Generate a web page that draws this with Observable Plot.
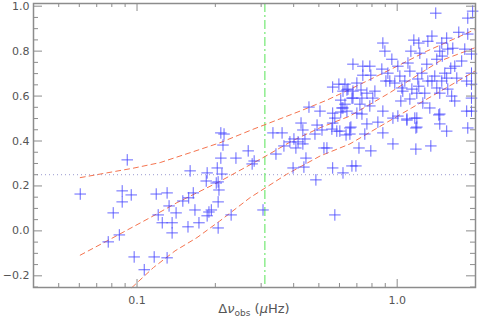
<!DOCTYPE html>
<html>
<head>
<meta charset="utf-8">
<script src="https://cdn.jsdelivr.net/npm/d3@7"></script>
<script src="https://cdn.jsdelivr.net/npm/@observablehq/plot@0.6"></script>
<style>
  html, body { margin: 0; padding: 0; background: #fff; }
  #chart svg { display: block; }
</style>
</head>
<body>
<div id="chart"></div>
<script>
// Observed large separation (μHz) and the plotted quantity
const deltaNu = [
  0.0605, 0.081, 0.0775, 0.0855, 0.0877, 0.095, 0.0877, 0.0917, 0.0975, 0.1066,
  0.1164, 0.1185, 0.1206, 0.1305, 0.1305, 0.125, 0.1364, 0.1364, 0.1328, 0.1413,
  0.150, 0.157, 0.160, 0.158, 0.1645, 0.167, 0.173, 0.1845, 0.186, 0.186,
  0.189, 0.193, 0.2016, 0.205, 0.2065, 0.205, 0.205, 0.2034, 0.212, 0.210,
  0.214, 0.210, 0.216, 0.230, 0.240, 0.2675, 0.277, 0.282, 0.305, 0.333,
  0.361, 0.342, 0.367, 0.387, 0.398, 0.401, 0.408, 0.416, 0.427, 0.434,
  0.434, 0.442, 0.438, 0.446, 0.458, 0.487, 0.492, 0.483, 0.505, 0.514,
  0.523, 0.537, 0.565, 0.576, 0.561, 0.565, 0.565, 0.576, 0.586, 0.607,
  0.602, 0.619, 0.636, 0.664, 0.670, 0.694, 0.713, 0.732, 0.751, 0.765,
  0.792, 0.843, 0.881, 0.963, 0.963, 1.090, 1.169, 1.180, 1.180, 1.347,
  1.445, 1.458, 1.55, 1.85, 0.565, 0.597, 0.641, 0.607, 0.670, 0.619,
  0.630, 0.647, 0.676, 0.738, 0.785, 0.738, 0.792, 0.873, 0.726, 0.806,
  0.905, 0.881, 0.897, 0.954, 1.407, 1.868, 1.95, 1.006, 1.159, 1.211,
  1.312, 1.36, 1.222, 1.129, 1.484, 1.55, 1.725, 1.868, 1.636, 1.458,
  1.607, 1.819, 1.93, 1.30, 1.244, 1.10, 1.119, 1.024, 0.921, 1.395,
  1.36, 1.524, 1.55, 1.695, 1.85, 0.979, 1.042, 1.139, 1.211, 1.277,
  1.42, 1.458, 1.565, 0.630, 0.70, 0.619, 0.676, 0.676, 0.732, 0.765,
  0.821, 1.051, 1.19, 0.719, 0.641, 0.881, 1.033, 1.119, 1.255, 1.335,
  1.458, 1.006, 1.090, 1.19, 0.658, 1.19, 1.93, 1.42, 1.49, 1.565,
  1.312, 1.20, 1.07, 0.937, 1.484, 1.62, 1.93, 0.613, 0.785, 0.70,
  1.665, 1.93, 1.868, 0.658, 1.93, 1.77, 1.665
];
const ratio = [
  0.164, 0.080, -0.049, -0.018, 0.178, 0.160, 0.129, 0.316, -0.116, -0.173,
  -0.116, 0.164, 0.071, 0.169, -0.120, 0.036, 0.036, -0.009, 0.111, 0.080,
  0.133, 0.018, 0.267, 0.147, 0.169, 0.093, 0.036, 0.222, 0.258, 0.067,
  0.084, 0.093, 0.213, 0.218, 0.182, 0.129, 0.013, 0.280, 0.253, 0.324,
  0.382, 0.436, 0.431, 0.071, 0.324, 0.356, 0.298, 0.311, 0.093, 0.436,
  0.436, 0.342, 0.378, 0.396, 0.280, 0.409, 0.369, 0.396, 0.480, 0.449,
  0.387, 0.409, 0.284, 0.324, 0.551, 0.227, 0.471, 0.431, 0.533, 0.449,
  0.369, 0.369, 0.280, 0.071, 0.453, 0.480, 0.524, 0.502, 0.444, 0.529,
  0.444, 0.258, 0.427, 0.462, 0.289, 0.289, 0.369, 0.520, 0.431, 0.476,
  0.356, 0.484, 0.436, 0.387, 0.502, 0.493, 0.502, 0.458, 0.364, 0.378,
  0.516, 0.476, 0.444, 0.533, 0.640, 0.653, 0.627, 0.582, 0.591, 0.547,
  0.564, 0.631, 0.742, 0.733, 0.733, 0.693, 0.693, 0.720, 0.627, 0.591,
  0.667, 0.836, 0.800, 0.764, 0.969, 0.947, 0.978, 0.733, 0.849, 0.836,
  0.844, 0.867, 0.791, 0.800, 0.836, 0.858, 0.884, 0.876, 0.813, 0.800,
  0.724, 0.809, 0.702, 0.742, 0.702, 0.747, 0.711, 0.689, 0.702, 0.689,
  0.667, 0.702, 0.680, 0.680, 0.667, 0.658, 0.636, 0.631, 0.644, 0.613,
  0.636, 0.613, 0.631, 0.653, 0.658, 0.622, 0.622, 0.591, 0.591, 0.613,
  0.622, 0.622, 0.613, 0.564, 0.533, 0.533, 0.578, 0.587, 0.569, 0.547,
  0.520, 0.511, 0.498, 0.502, 0.458, 0.462, 0.787, 0.764, 0.778, 0.809,
  0.667, 0.676, 0.667, 0.667, 0.667, 0.600, 0.653, 0.547, 0.556, 0.524,
  0.578, 0.533, 0.458, 0.431, 0.591, 0.756, 0.733
];

// Dashed relations
const upperX = [0.0605, 0.0967, 0.1227, 0.164, 0.208, 0.279, 0.423, 0.537, 0.658, 1.0, 1.30, 1.99];
const upperY = [0.237, 0.279, 0.304, 0.352, 0.392, 0.452, 0.533, 0.582, 0.630, 0.733, 0.800, 0.896];
const middleX = [0.0605, 0.0789, 0.1123, 0.1426, 0.186, 0.208, 0.305, 0.394, 0.505, 0.658, 0.937, 1.458, 1.99];
const middleY = [-0.108, -0.037, 0.059, 0.126, 0.192, 0.220, 0.326, 0.400, 0.459, 0.511, 0.615, 0.756, 0.815];
const lowerX = [0.0956, 0.1157, 0.140, 0.170, 0.208, 0.272, 0.376, 0.505, 0.658, 1.136, 1.99];
const lowerY = [-0.252, -0.163, -0.089, -0.030, 0.044, 0.148, 0.252, 0.333, 0.387, 0.547, 0.711];

const cutX = [0.31];          // vertical dash-dot line
const refY = [0.25];          // horizontal dotted line

// Axis ticks
const xMajor = [0.1, 1.0];
const xMinor = [0.05, 0.06, 0.07, 0.08, 0.09, 0.2, 0.3, 0.4, 0.5, 0.6, 0.7, 0.8, 0.9];
const yMajor = [-0.2, 0.0, 0.2, 0.4, 0.6, 0.8, 1.0];
const yMinor = [-0.25, -0.15, -0.1, -0.05, 0.05, 0.1, 0.15, 0.25, 0.3, 0.35, 0.45, 0.5, 0.55, 0.65, 0.7, 0.75, 0.85, 0.9, 0.95];

const points = deltaNu.map((d, i) => ({x: d, y: ratio[i]}));
const upper = upperX.map((d, i) => ({x: d, y: upperY[i]}));
const middle = middleX.map((d, i) => ({x: d, y: middleY[i]}));
const lower = lowerX.map((d, i) => ({x: d, y: lowerY[i]}));

const W = 480, H = 319, mL = 33, mR = 5, mT = 3, mB = 32;
const innerW = W - mL - mR, innerH = H - mT - mB;
const axisColor = "#8c8c8c";

const svg = Plot.plot({
  width: W, height: H,
  marginLeft: mL, marginRight: mR, marginTop: mT, marginBottom: mB,
  style: {fontFamily: "DejaVu Sans, sans-serif", fontSize: "11px", color: "#555", background: "#fff"},
  x: {type: "log", domain: [0.04, 2.0]},
  y: {domain: [-0.252, 1.012]},
  marks: [
    Plot.ruleY(refY, {stroke: "#9a9ad0", strokeDasharray: "1,3", strokeWidth: 1}),
    Plot.ruleX(cutX, {stroke: "#72e872", strokeDasharray: "9,3,2,3", strokeWidth: 1.2}),
    Plot.line(upper, {x: "x", y: "y", stroke: "#f5744f", strokeDasharray: "5,4", strokeWidth: 1}),
    Plot.line(middle, {x: "x", y: "y", stroke: "#f5744f", strokeDasharray: "5,4", strokeWidth: 1}),
    Plot.line(lower, {x: "x", y: "y", stroke: "#f5744f", strokeDasharray: "5,4", strokeWidth: 1}),
    Plot.dot(points, {x: "x", y: "y", symbol: "plus", r: 3.8, stroke: "#4040ff", strokeOpacity: 0.8, strokeWidth: 1}),
    // inward ticks: bottom/top
    Plot.tickX(xMajor, {x: d => d, insetTop: innerH - 8, stroke: axisColor}),
    Plot.tickX(xMinor, {x: d => d, insetTop: innerH - 4, stroke: axisColor}),
    Plot.tickX(xMajor, {x: d => d, insetBottom: innerH - 8, stroke: axisColor}),
    Plot.tickX(xMinor, {x: d => d, insetBottom: innerH - 4, stroke: axisColor}),
    // inward ticks: left/right
    Plot.tickY(yMajor, {y: d => d, insetRight: innerW - 9, stroke: axisColor}),
    Plot.tickY(yMinor, {y: d => d, insetRight: innerW - 5, stroke: axisColor}),
    Plot.tickY(yMajor, {y: d => d, insetLeft: innerW - 9, stroke: axisColor}),
    Plot.tickY(yMinor, {y: d => d, insetLeft: innerW - 5, stroke: axisColor}),
    Plot.axisX({ticks: xMajor, tickSize: 0, tickPadding: 9, tickFormat: d3.format(".1f"), label: null}),
    Plot.axisY({ticks: yMajor, tickSize: 0, tickPadding: 4, tickFormat: d3.format(".1f"), label: null}),
    Plot.frame({stroke: axisColor, strokeWidth: 1.5})
  ]
});

// x-axis title with subscript
const t = d3.select(svg).append("text")
  .attr("x", mL + innerW / 2).attr("y", 313)
  .attr("text-anchor", "middle")
  .attr("font-family", "DejaVu Sans, sans-serif")
  .attr("font-size", 13)
  .attr("fill", "#555");
t.append("tspan").text("Δ");
t.append("tspan").attr("font-style", "italic").text("ν");
t.append("tspan").attr("font-size", 9).attr("dy", 3).text("obs");
t.append("tspan").attr("dy", -3).text(" (");
t.append("tspan").attr("font-style", "italic").text("μ");
t.append("tspan").text("Hz)");

document.getElementById("chart").appendChild(svg);
</script>
</body>
</html>
